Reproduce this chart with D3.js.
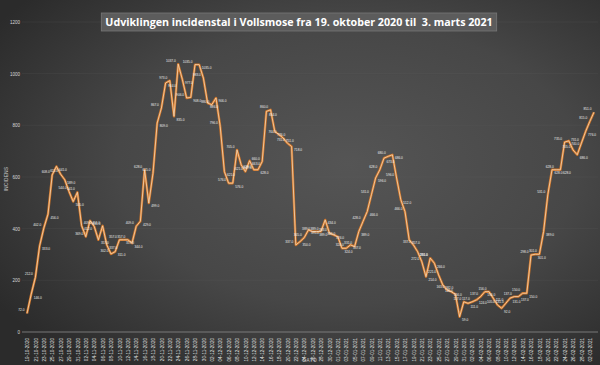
<!DOCTYPE html>
<html>
<head>
<meta charset="utf-8">
<script src="https://cdn.jsdelivr.net/npm/d3@7"></script>
<style>
  html, body { margin: 0; padding: 0; background: #3a3a3a; }
  svg { display: block; font-family: "Liberation Sans", "DejaVu Sans", sans-serif; }
</style>
</head>
<body>
<svg id="chart" width="600" height="365"></svg>
<script>
// Incidence values, one per day from 19.10.2020 to 03.03.2021
const incidens = [
  72, 146, 212, 333, 402, 456, 608, 641, 611, 589,
  544, 505, 541, 412, 369, 431, 409, 357, 411, 337,
  302, 311, 357, 357, 357, 344, 409, 429, 628, 499,
  615, 809, 867, 964, 973, 835, 1037, 977, 906, 908,
  1035, 1035, 983, 886, 880, 906, 796, 621, 576, 576,
  705, 647, 621, 663, 628, 628, 660, 854, 860, 776,
  764, 751, 731, 718, 337, 350, 365, 395, 389, 389,
  389, 434, 383, 376, 369, 324, 324, 337, 331, 389,
  428, 466, 531, 596, 628, 673, 680, 686, 596, 512,
  466, 357, 337, 311, 272, 214, 286, 266, 221, 182,
  163, 156, 146, 59, 117, 111, 117, 124, 137, 156,
  156, 131, 105, 92, 111, 131, 137, 137, 150, 150,
  298, 301, 301, 389, 531, 628, 628, 628, 735, 740,
  705, 686, 731, 776, 815, 851
];
const startDate = new Date(2020, 9, 19);
const yTicks = [0, 200, 400, 600, 800, 1000, 1200];
const title = 'Udviklingen incidenstal i Vollsmose fra 19. oktober 2020 til  3. marts 2021';
const xTitle = 'DATO';
const yTitle = 'INCIDENS';

const fmtDate = d3.timeFormat('%d-%m-%Y');
const dates = incidens.map((_, i) => fmtDate(d3.timeDay.offset(startDate, i)));
const data = incidens.map((v, i) => ({ date: dates[i], value: v }));

const width = 600, height = 365;
const margin = { top: 22, right: 6, bottom: 33, left: 27 };

const svg = d3.select('#chart');

// background gradient
const defs = svg.append('defs');
const grad = defs.append('radialGradient')
  .attr('id', 'bg')
  .attr('cx', '58%').attr('cy', '45%').attr('r', '70%');
grad.append('stop').attr('offset', '0%').attr('stop-color', '#555555');
grad.append('stop').attr('offset', '55%').attr('stop-color', '#474747');
grad.append('stop').attr('offset', '100%').attr('stop-color', '#2b2b2b');
svg.append('rect').attr('width', width).attr('height', height).attr('fill', 'url(#bg)');

const x = d3.scalePoint()
  .domain(dates)
  .range([margin.left, width - margin.right]);
const y = d3.scaleLinear()
  .domain([0, 1200])
  .range([height - margin.bottom, margin.top]);

// gridlines
svg.append('g')
  .selectAll('line')
  .data(yTicks.filter(t => t > 0))
  .join('line')
  .attr('x1', 22).attr('x2', width - 2)
  .attr('y1', d => y(d)).attr('y2', d => y(d))
  .attr('stroke', '#666')
  .attr('stroke-opacity', 0.3)
  .attr('stroke-width', 0.6);

// y axis
const yAxisG = svg.append('g')
  .attr('transform', `translate(22,0)`)
  .call(d3.axisLeft(y).tickValues(yTicks).tickFormat(d3.format('d')).tickSize(0).tickPadding(2));
yAxisG.select('.domain').remove();
yAxisG.selectAll('text')
  .attr('fill', '#d8d8d8')
  .style('font-size', '4.5px');

// x axis
const xAxisG = svg.append('g')
  .attr('transform', `translate(0,${y(0)})`)
  .call(d3.axisBottom(x)
    .tickValues(dates.filter((d, i) => i % 2 === 0))
    .tickSize(0));
xAxisG.select('.domain')
  .attr('d', `M22,0H${width - 2}`)
  .attr('stroke', '#8a8a8a')
  .attr('stroke-width', 0.8);
xAxisG.selectAll('text')
  .attr('fill', '#e0e0e0')
  .style('font-size', '4.6px')
  .attr('text-anchor', 'end')
  .attr('transform', 'rotate(-90)')
  .attr('x', -6)
  .attr('y', 0)
  .attr('dy', '0.35em');

// axis titles
svg.append('text')
  .attr('x', 310).attr('y', 362)
  .attr('text-anchor', 'middle')
  .attr('fill', '#d0d0d0')
  .style('font-size', '4.5px')
  .style('letter-spacing', '0.6px')
  .text(xTitle);
svg.append('text')
  .attr('transform', 'translate(8,179) rotate(-90)')
  .attr('text-anchor', 'middle')
  .attr('fill', '#d0d0d0')
  .style('font-size', '4.5px')
  .style('letter-spacing', '0.4px')
  .text(yTitle);

// line
const line = d3.line()
  .x(d => x(d.date))
  .y(d => y(d.value));
svg.append('path')
  .datum(data)
  .attr('fill', 'none')
  .attr('stroke', '#cf7427')
  .attr('stroke-width', 2.4)
  .attr('stroke-linejoin', 'round')
  .attr('d', line);
svg.append('path')
  .datum(data)
  .attr('fill', 'none')
  .attr('stroke', '#f6d9b8')
  .attr('stroke-width', 0.8)
  .attr('stroke-linejoin', 'round')
  .attr('d', line);

// data labels, alternating sides of the line; the last one kept inside the frame
const last = data.length - 1;
const onRight = (i) => i % 2 === 1 && i !== last;
svg.append('g')
  .selectAll('text')
  .data(data)
  .join('text')
  .attr('x', (d, i) => x(d.date) + (onRight(i) ? 2.5 : -2.5))
  .attr('y', (d, i) => y(d.value) + (onRight(i) ? 4.4 : -2))
  .attr('text-anchor', (d, i) => (onRight(i) ? 'start' : 'end'))
  .attr('fill', '#eeeeee')
  .style('font-size', '3.2px')
  .text(d => d3.format('.1f')(d.value));

// title box
const tg = svg.append('g');
const titleText = tg.append('text')
  .attr('x', 299).attr('y', 26)
  .attr('text-anchor', 'middle')
  .attr('fill', '#ffffff')
  .attr('xml:space', 'preserve')
  .style('white-space', 'pre')
  .style('font-size', '10.7px')
  .style('font-weight', 'bold')
  .style('font-family', '"Open Sans", "Liberation Sans", sans-serif')
  .text(title);
const bb = titleText.node().getBBox();
tg.insert('rect', 'text')
  .attr('x', bb.x - 4).attr('y', 13)
  .attr('width', bb.width + 8).attr('height', 18)
  .attr('fill', '#5c5c5c')
  .attr('stroke', '#777')
  .attr('stroke-width', 0.8);
</script>
</body>
</html>
